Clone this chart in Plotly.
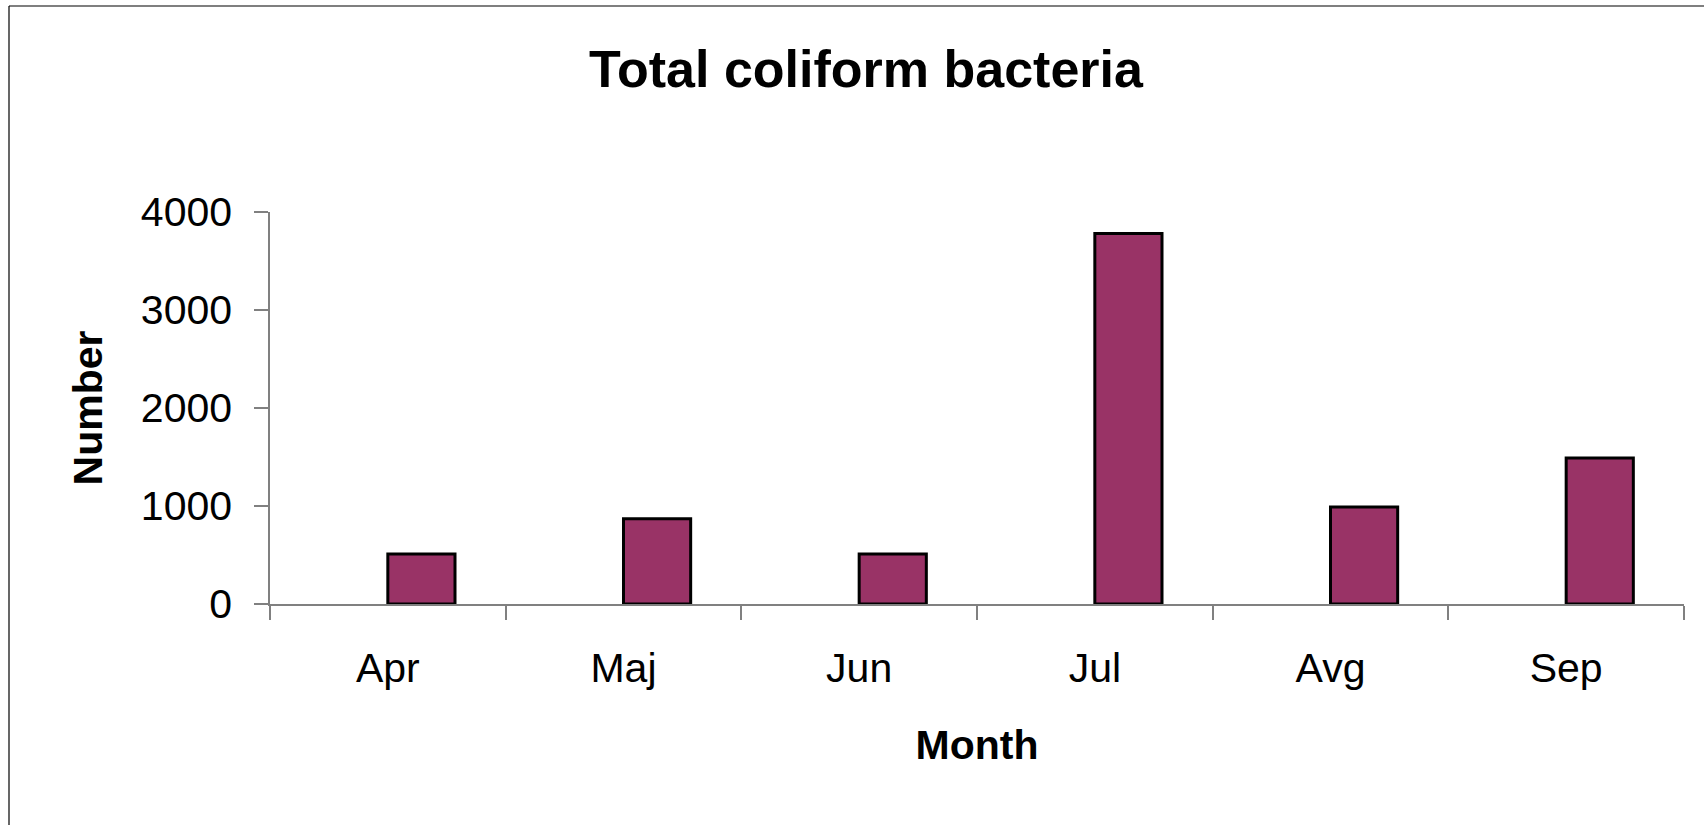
import plotly.graph_objects as go

# Monthly counts of total coliform bacteria
months = ["Apr", "Maj", "Jun", "Jul", "Avg", "Sep"]
counts = [510, 870, 510, 3780, 990, 1490]
y_ticks = [0, 1000, 2000, 3000, 4000]

FONT = "Liberation Sans, Arial, sans-serif"
W, H = 1704, 825
L, R, T, B = 270, 20, 212, 221

fig = go.Figure()
fig.add_trace(go.Bar(
    x=months,
    y=counts,
    width=0.285,
    offset=0,
    marker=dict(color="#993366", line=dict(color="#000000", width=3)),
    showlegend=False,
    hoverinfo="x+y",
))

pw = W - L - R
ph = H - T - B


def px_x(x):
    return (x - L) / pw


def px_y(y):
    return (H - B - y) / ph


fig.update_layout(
    width=W,
    height=H,
    margin=dict(l=L, r=R, t=T, b=B),
    paper_bgcolor="white",
    plot_bgcolor="white",
    font=dict(family=FONT, color="#000000"),
    title=dict(
        text="<b>Total coliform bacteria</b>",
        font=dict(family=FONT, size=52, color="#000000"),
        x=866 / W,
        xanchor="center",
        y=1 - 69 / H,
        yanchor="middle",
    ),
    xaxis=dict(
        type="category",
        tickson="boundaries",
        ticks="outside",
        ticklen=14,
        tickwidth=1.5,
        tickcolor="#808080",
        showline=True,
        linecolor="#808080",
        linewidth=1.5,
        showgrid=False,
        zeroline=False,
        tickfont=dict(family=FONT, size=41),
        ticklabelstandoff=27,
        title=dict(text="<b>Month</b>", font=dict(family=FONT, size=41), standoff=40),
    ),
    yaxis=dict(
        range=[0, 4000],
        tickvals=y_ticks,
        ticktext=[str(v) for v in y_ticks],
        ticks="outside",
        ticklen=14,
        tickwidth=1.5,
        tickcolor="#808080",
        showline=True,
        linecolor="#808080",
        linewidth=1.5,
        showgrid=False,
        zeroline=False,
        tickfont=dict(family=FONT, size=41),
        ticklabelstandoff=14,
        title=dict(text="<b>Number</b>", font=dict(family=FONT, size=41), standoff=25),
    ),
    shapes=[
        dict(type="line", xref="paper", yref="paper",
             x0=px_x(9), x1=px_x(W + 5), y0=px_y(6), y1=px_y(6),
             line=dict(color="#000000", width=1.2)),
        dict(type="line", xref="paper", yref="paper",
             x0=px_x(9), x1=px_x(9), y0=px_y(6), y1=px_y(H + 5),
             line=dict(color="#000000", width=1.2)),
    ],
)

fig.write_html("out.html")
